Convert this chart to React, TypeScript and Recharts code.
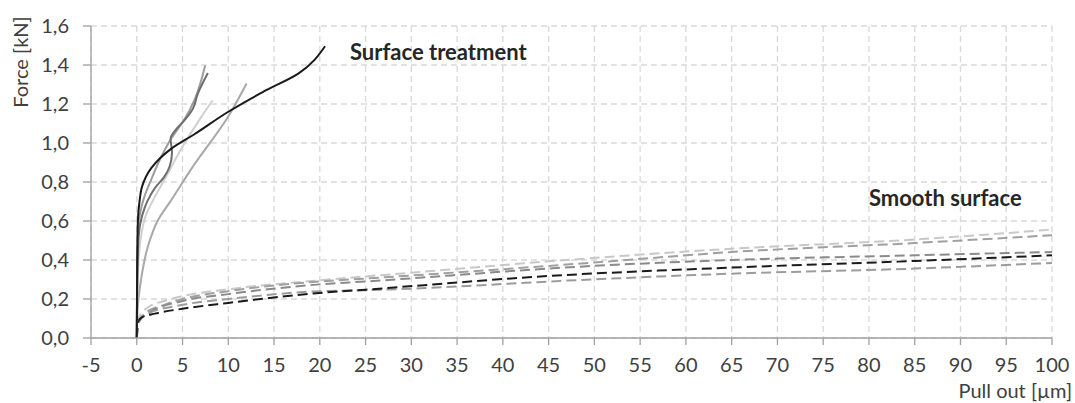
import { LineChart, Line, XAxis, YAxis, CartesianGrid, ReferenceDot } from 'recharts'

// Surface treatment (solid)
const treatedBlack = [
  [0, 0], [0.05, 0.4], [0.12, 0.6], [0.3, 0.7], [0.6, 0.78], [1.56, 0.87], [3.75, 0.97],
  [6.3, 1.045], [9.96, 1.159], [13.8, 1.262], [17.65, 1.356], [20.57, 1.496],
]
const treatedDark = [
  [0, 0], [0.05, 0.3], [0.2, 0.52], [0.6, 0.63], [1.2, 0.706], [2.0, 0.77], [3.0, 0.826], [3.57, 0.877],
  [3.85, 0.95], [3.7, 1.022], [4.3, 1.07], [5.2, 1.116], [6.13, 1.176], [6.67, 1.253], [7.77, 1.359],
]
const treatedLight = [
  [0, 0], [0.05, 0.35], [0.25, 0.6], [0.8, 0.72], [1.56, 0.81], [2.66, 0.928], [3.75, 1.022],
  [5.2, 1.12], [6.3, 1.22], [7.47, 1.398],
]
const treatedPale = [
  [0, 0], [0.1, 0.3], [0.4, 0.5], [1.0, 0.63], [1.93, 0.72], [3.0, 0.81], [5.2, 0.997], [7.0, 1.13], [8.3, 1.219],
]
const treatedMid = [
  [0, 0], [0.1, 0.15], [0.47, 0.3], [1.2, 0.467], [2.3, 0.603], [3.75, 0.706], [6.0, 0.87],
  [9.96, 1.133], [12.0, 1.305],
]

// Smooth surface (dashed)
const smoothTop = [
  [0, 0], [0.2, 0.1], [1, 0.15], [3, 0.19], [5, 0.215], [10, 0.25], [20, 0.296], [30, 0.335],
  [45, 0.393], [65, 0.458], [85, 0.505], [100, 0.556],
]
const smoothSecond = [
  [0, 0], [0.2, 0.08], [1, 0.13], [3, 0.17], [5, 0.2], [10, 0.24], [20, 0.29], [25, 0.305],
  [50, 0.387], [65, 0.441], [85, 0.487], [100, 0.527],
]
const smoothThird = [
  [0, 0], [0.2, 0.08], [1, 0.12], [5, 0.19], [10, 0.225], [20, 0.275], [25, 0.29],
  [50, 0.37], [65, 0.4], [85, 0.424], [100, 0.441],
]
const smoothBlack = [
  [0, 0], [0.1, 0.08], [0.5, 0.105], [2, 0.125], [5, 0.15], [10, 0.18], [20, 0.231], [25, 0.248],
  [45, 0.318], [65, 0.361], [85, 0.395], [100, 0.424],
]
const smoothLow = [
  [0, 0], [0.2, 0.09], [1, 0.12], [5, 0.17], [10, 0.2], [20, 0.24], [25, 0.245],
  [50, 0.301], [65, 0.33], [85, 0.356], [100, 0.385],
]

const xTicks = [-5, 0, 5, 10, 15, 20, 25, 30, 35, 40, 45, 50, 55, 60, 65, 70, 75, 80, 85, 90, 95, 100]
const yTicks = [0, 0.2, 0.4, 0.6, 0.8, 1.0, 1.2, 1.4, 1.6]

const toPts = (arr: number[][]) => arr.map(([x, y]) => ({ x, y }))

const font = 'Lato, "Open Sans", sans-serif'
const textColor = '#404040'
const tickSize = 20

const solid = [
  { data: treatedMid, color: '#a8a8a8' },
  { data: treatedPale, color: '#d0d0d0' },
  { data: treatedLight, color: '#9c9c9c' },
  { data: treatedDark, color: '#6e6e6e' },
  { data: treatedBlack, color: '#1a1a1a' },
]
const dashed = [
  { data: smoothTop, color: '#c8c8c8' },
  { data: smoothSecond, color: '#a0a0a0' },
  { data: smoothThird, color: '#8a8a8a' },
  { data: smoothLow, color: '#9c9c9c' },
  { data: smoothBlack, color: '#1a1a1a' },
]

export default function App() {
  return (
    <div style={{ position: 'absolute', left: 0, top: 0, background: '#fff', fontFamily: font }}>
      <LineChart width={1075} height={403} margin={{ top: 26, right: 23, bottom: 25, left: 0 }}>
        <CartesianGrid stroke="#d9d9d9" strokeDasharray="6 4" strokeWidth={1.3} horizontal vertical />
        <XAxis
          type="number"
          dataKey="x"
          domain={[-5, 100]}
          ticks={xTicks}
          allowDataOverflow
          height={40}
          stroke="#a0a0a0"
          strokeWidth={1.3}
          tickSize={7}
          tickMargin={13}
          tick={{ fill: textColor, fontSize: tickSize, fontFamily: font }}
          label={{ value: 'Pull out [µm]', position: 'insideBottomRight', offset: -20, fill: textColor, fontSize: tickSize, fontFamily: font }}
        />
        <YAxis
          type="number"
          dataKey="y"
          domain={[0, 1.6]}
          ticks={yTicks}
          allowDataOverflow
          width={91}
          stroke="#a0a0a0"
          strokeWidth={1.3}
          tickSize={8}
          tickMargin={14}
          tickFormatter={(v: number) => v.toFixed(1).replace('.', ',')}
          tick={{ fill: textColor, fontSize: tickSize, fontFamily: font }}
          label={{
            content: (props: any) => {
              const vb = props.viewBox || { x: 0, y: 26 }
              return (
                <text
                  transform={`translate(${vb.x + 20},${vb.y + 36}) rotate(-90)`}
                  textAnchor="middle"
                  dominantBaseline="central"
                  fill={textColor}
                  fontSize={tickSize}
                  fontFamily={font}
                >
                  Force [kN]
                </text>
              )
            },
          }}
        />
        {dashed.map((s, i) => (
          <Line
            key={'d' + i}
            data={toPts(s.data)}
            dataKey="y"
            type="monotone"
            stroke={s.color}
            strokeWidth={2}
            strokeDasharray="10 5"
            dot={false}
            isAnimationActive={false}
          />
        ))}
        {solid.map((s, i) => (
          <Line
            key={'s' + i}
            data={toPts(s.data)}
            dataKey="y"
            type="monotoneY"
            stroke={s.color}
            strokeWidth={2}
            dot={false}
            isAnimationActive={false}
          />
        ))}
        <ReferenceDot
          x={23.3}
          y={1.465}
          r={0}
          stroke="none"
          fill="none"
          label={{ value: 'Surface treatment', position: 'right', offset: 0, fill: '#262626', fontSize: 22, fontWeight: 'bold', fontFamily: font }}
        />
        <ReferenceDot
          x={80}
          y={0.716}
          r={0}
          stroke="none"
          fill="none"
          label={{ value: 'Smooth surface', position: 'right', offset: 0, fill: '#262626', fontSize: 22, fontWeight: 'bold', fontFamily: font }}
        />
      </LineChart>
    </div>
  )
}
